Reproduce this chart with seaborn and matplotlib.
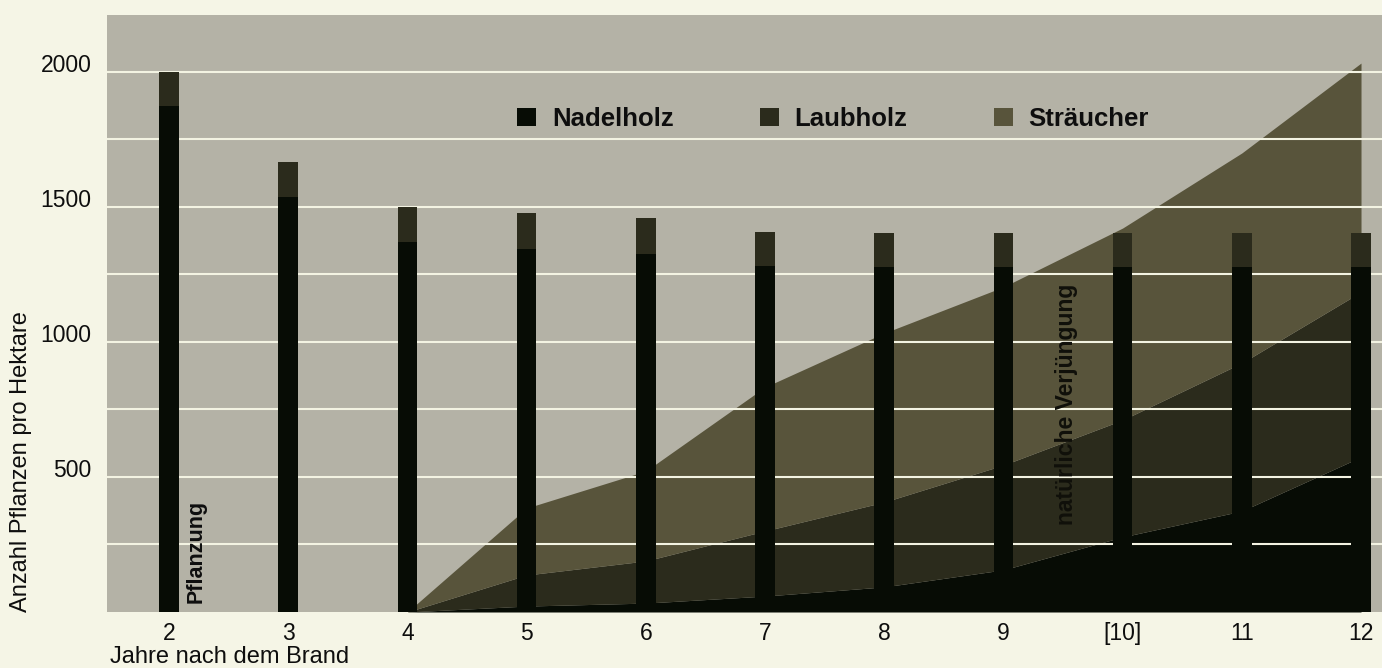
#%% IMPORTING PACKAGES
import numpy as np
import matplotlib
matplotlib.use('Agg')
import matplotlib.pyplot as plt
from matplotlib.patches import Patch
import seaborn as sns

#%% DATA
years = [2, 3, 4, 5, 6, 7, 8, 9, 10, 11, 12]
year_labels = ['2', '3', '4', '5', '6', '7', '8', '9', '[10]', '11', '12']

# planted trees (bars)
bar_nadelholz = [1874, 1537, 1370, 1344, 1326, 1281, 1278, 1278, 1278, 1278, 1278]
bar_laubholz = [126, 130, 130, 134, 133, 126, 126, 126, 126, 126, 126]

# natural regeneration (stacked areas)
area_years = [4, 5, 6, 7, 8, 9, 10, 11, 12]
area_nadelholz = [0, 22, 33, 59, 93, 156, 278, 374, 574]
area_laubholz = [0, 115, 156, 241, 314, 388, 433, 548, 611]
area_straeucher = [0, 248, 333, 533, 626, 660, 711, 778, 848]

series_names = ['Nadelholz', 'Laubholz', 'Sträucher']

#%% STYLE
col_nadel = '#070c05'
col_laub = '#2b2b1c'
col_strauch = '#58543b'
col_bg = '#b4b2a6'
col_paper = '#f5f5e6'
col_grid = '#f3f3e2'
col_text = '#0e0e0e'

sns.set_theme(style='white')
plt.rcParams['font.family'] = ['Liberation Sans', 'DejaVu Sans']
plt.rcParams['text.color'] = col_text

fig = plt.figure(figsize=(13.82, 6.68), dpi=100, facecolor=col_paper)
ax = fig.add_axes([107/1382, 56/668, 1275/1382, 597/668])
ax.set_facecolor(col_bg)

#%% AREAS
ax.stackplot(area_years, area_nadelholz, area_laubholz, area_straeucher,
             colors=[col_nadel, col_laub, col_strauch], linewidth=0, zorder=1)

#%% BARS (total first, then the Nadelholz part on top of it)
bar_total = np.array(bar_nadelholz) + np.array(bar_laubholz)
sns.barplot(x=years, y=bar_total, native_scale=True, width=0.163, color=col_laub,
            saturation=1, errorbar=None, linewidth=0, zorder=3, ax=ax)
sns.barplot(x=years, y=bar_nadelholz, native_scale=True, width=0.163, color=col_nadel,
            saturation=1, errorbar=None, linewidth=0, zorder=3.1, ax=ax)

#%% AXES
ax.set_xlim(1.48, 12.176)
ax.set_ylim(0, 2211)
ax.set_xticks(years)
ax.set_xticklabels(year_labels)
yt = list(range(250, 2001, 250))
ax.set_yticks(yt)
ax.set_yticklabels([str(v) if v % 500 == 0 else '' for v in yt])
plt.setp(ax.get_yticklabels(), va='baseline')
ax.tick_params(axis='y', length=0, pad=11, labelsize=16.5, labelcolor=col_text)
ax.tick_params(axis='x', length=0, pad=7, labelsize=16.5, labelcolor=col_text)
ax.set_axisbelow('line')
ax.grid(axis='y', color=col_grid, linewidth=1.5)
ax.grid(axis='x', visible=False)
for s in ax.spines.values():
    s.set_visible(False)
ax.set_xlabel('')
ax.set_ylabel('')

fig.text(21/1382, 56/668, 'Anzahl Pflanzen pro Hektare', rotation=90,
         ha='center', va='bottom', fontsize=17, color=col_text)
fig.text(110/1382, 5/668, 'Jahre nach dem Brand', ha='left', va='baseline',
         fontsize=17, color=col_text)

#%% ANNOTATIONS
ax.text(2.225, 33, 'Pflanzung', rotation=90, ha='center', va='bottom',
        fontsize=15.5, fontweight='bold', color=col_text, zorder=4)
ax.text(9.533, 322, 'natürliche Verjüngung', rotation=90, ha='center', va='bottom',
        fontsize=16.5, fontweight='bold', color='#10100a', zorder=4)

#%% LEGEND
handles = [Patch(facecolor=c, edgecolor='none') for c in [col_nadel, col_laub, col_strauch]]
leg = ax.legend(handles, series_names, loc='center left', bbox_to_anchor=(0.3216, 0.826),
                ncol=3, frameon=False, borderpad=0, borderaxespad=0,
                handlelength=0.74, handleheight=0.72, handletextpad=0.62,
                columnspacing=3.35, prop={'size': 18.5, 'weight': 'bold'})
for t in leg.get_texts():
    t.set_color(col_text)

plt.savefig('out.png', dpi=100, facecolor=col_paper)
plt.close(fig)
